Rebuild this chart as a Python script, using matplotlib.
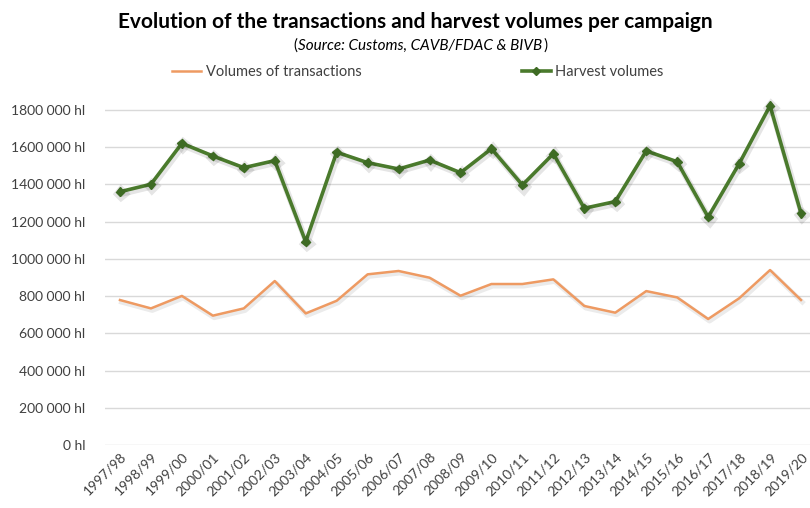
import matplotlib
matplotlib.use("Agg")
import matplotlib.pyplot as plt
import matplotlib.patheffects as pe
from matplotlib.lines import Line2D

campaigns = ["1997/98", "1998/99", "1999/00", "2000/01", "2001/02", "2002/03", "2003/04",
             "2004/05", "2005/06", "2006/07", "2007/08", "2008/09", "2009/10", "2010/11",
             "2011/12", "2012/13", "2013/14", "2014/15", "2015/16", "2016/17", "2017/18",
             "2018/19", "2019/20"]
transactions = [779000, 734000, 801000, 695000, 734000, 881000, 707000, 775000, 917000,
                935000, 899000, 802000, 865000, 865000, 890000, 747000, 711000, 827000,
                793000, 677000, 788000, 940000, 779000]
harvest = [1361000, 1401000, 1621000, 1553000, 1490000, 1528000, 1092000, 1573000, 1517000,
           1483000, 1531000, 1463000, 1592000, 1397000, 1565000, 1272000, 1308000, 1580000,
           1522000, 1225000, 1511000, 1823000, 1245000]
yticks = [0, 200000, 400000, 600000, 800000, 1000000, 1200000, 1400000, 1600000, 1800000]
ytick_labels = ["0 hl", "200 000 hl", "400 000 hl", "600 000 hl", "800 000 hl",
                "1000 000 hl", "1200 000 hl", "1400 000 hl", "1600 000 hl", "1800 000 hl"]

plt.rcParams['font.family'] = ['Lato', 'DejaVu Sans']

W, H = 810, 508
fig = plt.figure(figsize=(W / 100, H / 100), dpi=100)
left, right = 104.5, 810
top, bottom = 92, 445
ax = fig.add_axes([left / W, 1 - bottom / H, (right - left) / W, (bottom - top) / H])

orange = '#EE9A62'
green = '#4A7A2C'
dgreen = '#3E6B24'

x = list(range(len(campaigns)))
ax.plot(x, transactions, color=orange, lw=1.8, zorder=3,
        path_effects=[pe.SimpleLineShadow(offset=(1, -1.5), shadow_color='#000000', alpha=0.08, linewidth=3.5), pe.Normal()])
ax.plot(x, harvest, color=green, lw=2.6, marker='D', markersize=4.5,
        markerfacecolor=dgreen, markeredgecolor=dgreen, zorder=4,
        path_effects=[pe.SimpleLineShadow(offset=(1, -1.5), shadow_color='#000000', alpha=0.1, linewidth=4.5), pe.Normal()])

ax.set_xlim(-0.5, 22 + (810 - 801) / 30.95)
ax.set_ylim(0, 1800000 * (bottom - top) / (bottom - 110))
ax.set_yticks(yticks)
ax.set_yticklabels(ytick_labels, fontsize=10, color='#404040')
ax.set_xticks(x)
ax.set_xticklabels(campaigns, rotation=45, ha='right', rotation_mode='anchor',
                   fontsize=10, color='#404040')
ax.tick_params(axis='both', length=0)
ax.tick_params(axis='y', pad=14)
ax.tick_params(axis='x', pad=4)
ax.grid(axis='y', color='#D9D9D9', lw=1)
ax.set_axisbelow(True)
for s in ax.spines.values():
    s.set_visible(False)

fig.text(415 / W, 1 - 22 / H, "Evolution of the transactions and harvest volumes per campaign",
         ha='center', va='center', fontsize=15, fontweight='bold', color='#000000')

# subtitle: upright parentheses around italic text
sub_y = 1 - 46 / H
mid = fig.text(420 / W, sub_y, "Source: Customs, CAVB/FDAC & BIVB", ha='center', va='center',
               fontsize=11, fontstyle='italic', color='#000000')
renderer = fig.canvas.get_renderer()
bb = mid.get_window_extent(renderer)
fig.text((bb.x0 - 1) / W, sub_y, "(", ha='right', va='center', fontsize=11, color='#000000')
fig.text((bb.x1 + 1) / W, sub_y, ")", ha='left', va='center', fontsize=11, color='#000000')

handles = [Line2D([], [], color=orange, lw=1.8),
           Line2D([], [], color=green, lw=2.6, marker='D', markersize=4,
                  markerfacecolor=dgreen, markeredgecolor=dgreen)]
leg = fig.legend(handles, ['Volumes of transactions', 'Harvest volumes'], loc='center',
                 bbox_to_anchor=(418 / W, 1 - 72 / H), ncol=2, frameon=False,
                 fontsize=10.5, columnspacing=11, handlelength=2.0, handletextpad=0.3)
for t in leg.get_texts():
    t.set_color('#404040')

fig.savefig("out.png", dpi=100)
